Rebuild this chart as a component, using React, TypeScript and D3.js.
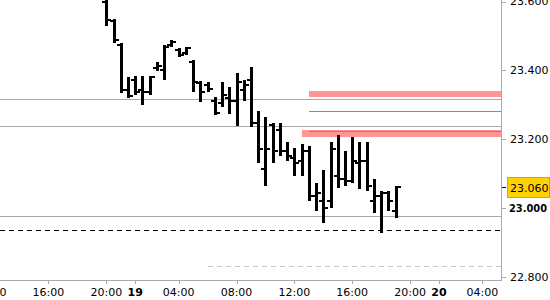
import React from 'react';
import * as d3 from 'd3';

const W = 550;
const H = 300;

// OHLC bars (30-min), indexed by bar position
const opens = [23.599, 23.543, 23.473, 23.342, 23.371, 23.342, 23.336, 23.406, 23.4, 23.473, 23.458, 23.45, 23.423, 23.362, 23.356, 23.312, 23.304, 23.318, 23.312, 23.342, 23.371, 23.248, 23.114, 23.242, 23.225, 23.166, 23.146, 23.137, 23.166, 23.035, 23.02, 23.02, 23.093, 23.085, 23.079, 23.131, 23.137, 23.02, 23.035, 23.044, 22.991];
const highs = [23.62, 23.549, 23.479, 23.38, 23.382, 23.382, 23.382, 23.423, 23.473, 23.488, 23.464, 23.467, 23.429, 23.368, 23.365, 23.321, 23.365, 23.35, 23.391, 23.371, 23.409, 23.283, 23.263, 23.248, 23.248, 23.19, 23.175, 23.187, 23.181, 23.073, 23.111, 23.19, 23.213, 23.166, 23.207, 23.19, 23.19, 23.085, 23.05, 23.05, 23.064];
const lows = [23.528, 23.479, 23.333, 23.318, 23.327, 23.298, 23.327, 23.397, 23.371, 23.467, 23.438, 23.444, 23.336, 23.307, 23.336, 23.269, 23.292, 23.274, 23.239, 23.312, 23.234, 23.131, 23.064, 23.131, 23.152, 23.137, 23.093, 23.093, 23.02, 22.991, 22.956, 23.0, 23.058, 23.064, 23.073, 23.055, 23.05, 22.985, 22.927, 22.991, 22.971];
const closes = [23.546, 23.488, 23.342, 23.324, 23.336, 23.336, 23.38, 23.412, 23.467, 23.482, 23.444, 23.464, 23.365, 23.336, 23.345, 23.277, 23.327, 23.312, 23.365, 23.356, 23.248, 23.172, 23.172, 23.166, 23.166, 23.152, 23.131, 23.166, 23.035, 23.044, 23.0, 23.172, 23.085, 23.079, 23.137, 23.137, 23.064, 23.035, 23.044, 23.02, 23.06];

// x-axis ticks (bar index -> label)
const xTickIndex = [-16, -8, 0, 4, 10, 18, 26, 34, 42, 46, 52];
const xTickLabels = ['12:00', '16:00', '20:00', '19', '04:00', '08:00', '12:00', '16:00', '20:00', '20', '04:00'];
const xTickBold = [false, false, false, true, false, false, false, false, false, true, false];

// y-axis ticks
const yTicks = [22.8, 23.0, 23.2, 23.4, 23.6];
const yTickBold = [false, true, false, false, false];
const lastPrice = 23.06;

// horizontal levels
const grayLevels = [23.3153, 23.2365, 22.975];
const blackDashedLevel = 22.935;
const lightDashedLevel = 22.83;
const lightDashedStart = 14;
const pinkBandLow = [23.321, 23.205];
const pinkBandHigh = [23.339, 23.225];
const pinkBandStart = [28, 27];
const greenLevels = [23.282, 23.222];
const greenStart = [28, 28];

export default function App() {
  const axisX = 501;
  const axisY = 280;
  const x = d3.scaleLinear().domain([-14.7, 54.57]).range([0, axisX]);
  const y = d3.scaleLinear().domain([22.8, 23.6]).range([276.6, 1.5]);
  const font = 'DejaVu Sans, Verdana, sans-serif';
  const py = (v: number) => Math.round(y(v)) + 0.5;

  const bars = opens.map((o, i) => ({ i, o, h: highs[i], l: lows[i], c: closes[i] }));

  return (
    <svg
      width={W}
      height={H}
      style={{ position: 'fixed', left: 0, top: 0, background: '#fff' }}
    >
      <rect x={0} y={0} width={W} height={H} fill="#fff" />
      <g shapeRendering="crispEdges">
        {/* pink bands */}
        {pinkBandLow.map((lo, k) => (
          <rect
            key={'pb' + k}
            x={x(pinkBandStart[k])}
            y={y(pinkBandHigh[k])}
            width={axisX - x(pinkBandStart[k])}
            height={y(lo) - y(pinkBandHigh[k])}
            fill="#ff9696"
          />
        ))}
        {/* gray levels */}
        {grayLevels.map((v, k) => (
          <line key={'g' + k} x1={0} x2={axisX} y1={py(v)} y2={py(v)} stroke="#aaaaaa" strokeWidth={1} />
        ))}
        {/* green levels */}
        {greenLevels.map((v, k) => (
          <line key={'gr' + k} x1={x(greenStart[k])} x2={axisX} y1={py(v)} y2={py(v)} stroke="#2ecc2e" strokeWidth={1} />
        ))}
        {/* dashed levels */}
        <line x1={0} x2={axisX} y1={py(blackDashedLevel)} y2={py(blackDashedLevel)} stroke="#000" strokeWidth={1} strokeDasharray="5,4" />
        <line x1={x(lightDashedStart)} x2={axisX} y1={py(lightDashedLevel)} y2={py(lightDashedLevel)} stroke="#c8c8c8" strokeWidth={1} strokeDasharray="5,4" />

        {/* OHLC bars */}
        <g fill="#000">
          {bars.map((b) => {
            const cx = Math.round(x(b.i));
            const yh = Math.round(y(b.h));
            const yl = Math.round(y(b.l));
            const yo = Math.round(y(b.o));
            const yc = Math.round(y(b.c));
            return (
              <g key={b.i}>
                <rect x={cx - 1} y={yh} width={3} height={Math.max(1, yl - yh)} />
                <rect x={cx - 4} y={yo - 1} width={3} height={2} />
                <rect x={cx + 2} y={yc - 1} width={3} height={2} />
              </g>
            );
          })}
        </g>

        {/* axes */}
        <line x1={axisX + 0.5} x2={axisX + 0.5} y1={0} y2={axisY} stroke="#aaaaaa" />
        <line x1={0} x2={axisX + 1} y1={axisY + 0.5} y2={axisY + 0.5} stroke="#aaaaaa" />

        {/* y tick marks */}
        {yTicks.map((v, k) => (
          <line key={'ytm' + k} x1={axisX + 1} x2={axisX + 5} y1={py(v)} y2={py(v)} stroke="#aaaaaa" />
        ))}
        <line x1={axisX + 1} x2={axisX + 5} y1={py(lastPrice)} y2={py(lastPrice)} stroke="#000" />
        <rect x={507.5} y={Math.round(y(lastPrice)) - 9.5} width={42} height={20} fill="#ffd200" stroke="#a0a0a0" />

        {/* x tick marks */}
        {xTickIndex.map((t, k) => (
          <line key={'xtm' + k} x1={Math.round(x(t)) + 0.5} x2={Math.round(x(t)) + 0.5} y1={axisY} y2={axisY + 4} stroke="#aaaaaa" />
        ))}
      </g>

      {/* y labels */}
      {yTicks.map((v, k) => (
        <text
          key={'yt' + k}
          x={yTickBold[k] ? 509 : 510}
          y={y(v)}
          dy="0.36em"
          fontFamily={font}
          fontSize={yTickBold[k] ? 10.5 : 11}
          fontWeight={yTickBold[k] ? 'bold' : 'normal'}
          textLength={yTickBold[k] ? 38 : undefined}
          lengthAdjust={yTickBold[k] ? 'spacingAndGlyphs' : undefined}
          fill="#000"
        >
          {d3.format('.3f')(v)}
        </text>
      ))}

      {/* last price label */}
      <text x={510} y={y(lastPrice)} dy="0.4em" fontFamily={font} fontSize={11} fill="#000">
        {d3.format('.3f')(lastPrice)}
      </text>

      {/* x labels */}
      {xTickIndex.map((t, k) => (
        <text
          key={'xt' + k}
          x={x(t)}
          y={296}
          textAnchor="middle"
          fontFamily={font}
          fontSize={11}
          fontWeight={xTickBold[k] ? 'bold' : 'normal'}
          fill="#000"
        >
          {xTickLabels[k]}
        </text>
      ))}
    </svg>
  );
}
